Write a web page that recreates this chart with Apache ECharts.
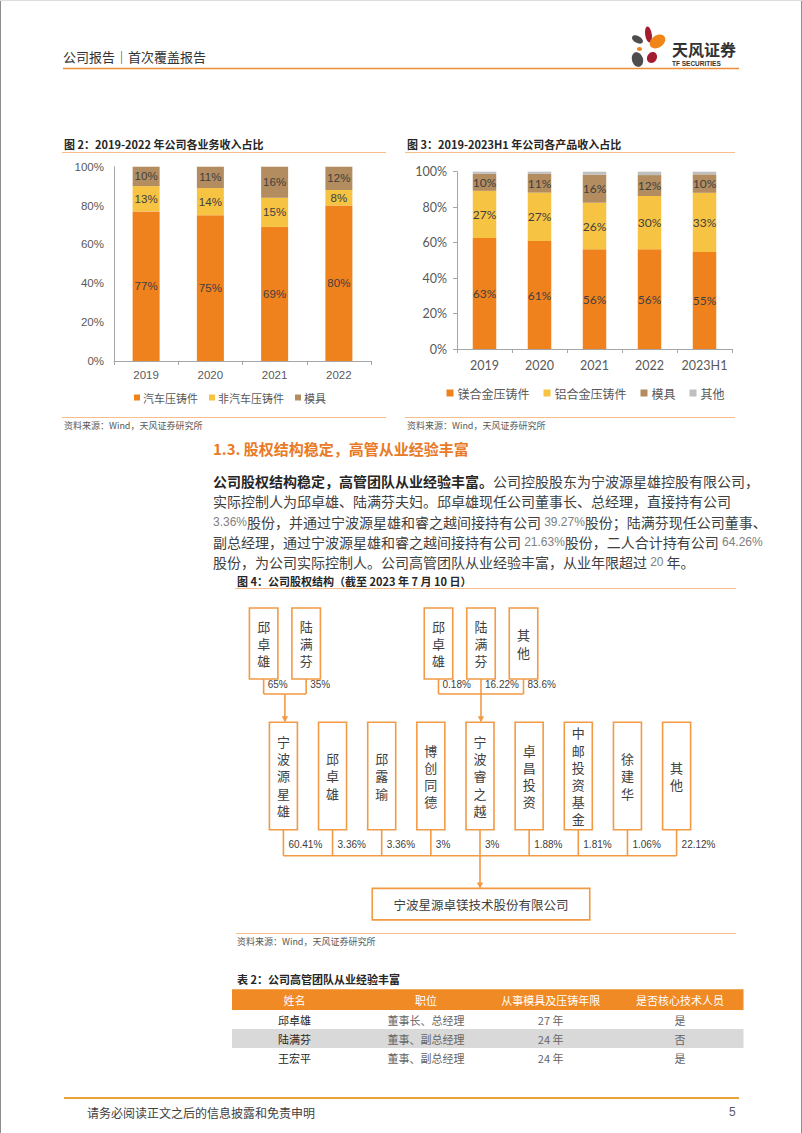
<!DOCTYPE html>
<html><head><meta charset="utf-8">
<script src="https://cdn.jsdelivr.net/npm/echarts@6/dist/echarts.min.js"></script>
<style>html,body{margin:0;padding:0;background:#fff;}#main{width:802px;height:1133px;}</style>
</head><body><div id="main"></div>
<script>
// ---------- DATA ----------
const cats1 = ['2019', '2020', '2021', '2022'];
const autoCast1 = [77, 75, 69, 80];
const nonAutoCast1 = [13, 14, 15, 8];
const mold1 = [10, 11, 16, 12];

const cats2 = ['2019', '2020', '2021', '2022', '2023H1'];
const mgCast2 = [62.6, 60.9, 56.2, 56.2, 54.7];
const alCast2 = [26.6, 27.3, 26.3, 30.1, 33.4];
const mold2 = [9.6, 10.6, 15.8, 11.8, 10.4];
const other2 = [1.2, 1.2, 1.7, 1.9, 1.5];

const topLeftHolders = ['邱卓雄', '陆满芬'];
const topLeftPct = ['65%', '35%'];
const topRightHolders = ['邱卓雄', '陆满芬', '其他'];
const topRightPct = ['0.18%', '16.22%', '83.6%'];
const shareholders = ['宁波源星雄', '邱卓雄', '邱露瑜', '博创同德', '宁波睿之越', '卓昌投资', '中邮投资基金', '徐建华', '其他'];
const shareholderPct = ['60.41%', '3.36%', '3.36%', '3%', '3%', '1.88%', '1.81%', '1.06%', '22.12%'];
const companyName = '宁波星源卓镁技术股份有限公司';

const tableHeader = ['姓名', '职位', '从事模具及压铸年限', '是否核心技术人员'];
const tableRows = [
  ['邱卓雄', '董事长、总经理', '27 年', '是'],
  ['陆满芬', '董事、副总经理', '24 年', '否'],
  ['王宏平', '董事、副总经理', '24 年', '是']
];

// ---------- STYLE ----------
const CJK = '"Noto Sans CJK SC"';
const LAT = '"Liberation Sans","Noto Sans CJK SC"';
const LAT2 = 'Lato,"Noto Sans CJK SC"';
const C_ORANGE = '#F0821E', C_YELLOW = '#F7C343', C_BROWN = '#B38D5F', C_GREY = '#BFBFBF';
const ORG = '#F29A45';
const LIGHT_OR = '#F5BE8C';

function txt(text, x, y, o) {
  o = o || {};
  return {
    type: 'text', silent: true, z: 10,
    style: Object.assign({
      text: text, x: x, y: y,
      align: o.align || 'left', textAlign: o.align || 'left',
      verticalAlign: 'middle', textVerticalAlign: 'middle',
      fontSize: 12, fontFamily: CJK, fill: '#333'
    }, o.style || {})
  };
}
function line(x1, y1, x2, y2, stroke, w) {
  return { type: 'line', silent: true, z: 5, shape: { x1, y1, x2, y2 }, style: { stroke: stroke, lineWidth: w || 1 } };
}
function rect(x, y, w, h, fill, stroke, lw) {
  return { type: 'rect', silent: true, z: 4, shape: { x, y, width: w, height: h }, style: { fill: fill || 'none', stroke: stroke || null, lineWidth: lw || 0 } };
}
function arrowDown(x, y) {
  return { type: 'polygon', silent: true, z: 6, shape: { points: [[x - 3.2, y - 6], [x + 3.2, y - 6], [x, y]] }, style: { fill: ORG } };
}
function vBox(x, y, w, h, label) {
  return [
    rect(x, y, w, h, '#fff', ORG, 1.6),
    { type: 'text', silent: true, z: 10, style: {
      text: label.split('').join('\n'), x: x + w / 2, y: y + h / 2,
      align: 'center', textAlign: 'center', verticalAlign: 'middle', textVerticalAlign: 'middle',
      fontSize: 13, lineHeight: 17.2, fontFamily: CJK, fill: '#404040' } }
  ];
}
function leaf(cx, cy, rx, ry, rot, color) {
  return { type: 'ellipse', silent: true, z: 6, x: cx, y: cy, rotation: rot, shape: { cx: 0, cy: 0, rx: rx, ry: ry }, style: { fill: color } };
}

const G = [];
// page border
G.push(line(0.5, 0, 0.5, 1133, '#8c8c8c', 1));
G.push(line(801.5, 0, 801.5, 1133, '#8c8c8c', 1));
G.push(line(0, 0.5, 802, 0.5, '#dddddd', 1));

// header
G.push(txt('公司报告｜首次覆盖报告', 63, 56, { style: { fontSize: 13, fill: '#333' } }));
G.push(line(63, 68.5, 739, 68.5, '#EC8C34', 1.6));
G.push(leaf(648.5, 34.5, 3.3, 8, 0.15, '#A51C30'));
G.push(leaf(637.5, 39.5, 6, 3.4, -0.5, '#4D4D4F'));
G.push(leaf(657.5, 41.5, 8.5, 6, 0.6, '#F08519'));
G.push(leaf(639.5, 49, 2.6, 2, 0, '#F08519'));
G.push(leaf(637.5, 59.5, 5.5, 7.5, 0.3, '#4D4D4F'));
G.push(leaf(652, 57.5, 4.8, 5.8, -0.5, '#A51C30'));
G.push(txt('天风证券', 672, 48.5, { style: { fontSize: 16, fontWeight: 'bold', fill: '#333' } }));
G.push(txt('TF SECURITIES', 672, 63.5, { style: { fontSize: 6.5, fontWeight: 'bold', fill: '#333', fontFamily: LAT } }));

// chart titles / rules / sources
G.push(txt('图 2：2019-2022 年公司各业务收入占比', 64, 144, { style: { fontSize: 11, fontWeight: 'bold', fill: '#262626' } }));
G.push(txt('图 3：2019-2023H1 年公司各产品收入占比', 407, 144, { style: { fontSize: 11, fontWeight: 'bold', fill: '#262626' } }));
G.push(line(62, 152.5, 386, 152.5, LIGHT_OR, 1));
G.push(line(405, 152.5, 735, 152.5, LIGHT_OR, 1));
G.push(line(62, 417.5, 386, 417.5, LIGHT_OR, 1));
G.push(line(405, 417.5, 735, 417.5, LIGHT_OR, 1));
G.push(txt('资料来源：Wind，天风证券研究所', 64, 425.5, { style: { fontSize: 9, fill: '#595959' } }));
G.push(txt('资料来源：Wind，天风证券研究所', 407, 425.5, { style: { fontSize: 9, fill: '#595959' } }));

// section heading + paragraph
G.push(txt('1.3. 股权结构稳定，高管从业经验丰富', 213, 448, { style: { fontSize: 15, fontWeight: 'bold', fill: '#E97A26' } }));
const rich = {
  b: { fontSize: 14, fontWeight: 'bold', fill: '#262626', fontFamily: CJK, lineHeight: 16 },
  n: { fontSize: 14, fill: '#404040', fontFamily: CJK, lineHeight: 16 },
  d: { fontSize: 12, fill: '#808080', fontFamily: LAT, lineHeight: 16 }
};
const paraLines = [
  '{b|公司股权结构稳定，高管团队从业经验丰富。}{n|公司控股股东为宁波源星雄控股有限公司，}',
  '{n|实际控制人为邱卓雄、陆满芬夫妇。邱卓雄现任公司董事长、总经理，直接持有公司}',
  '{d|3.36%}{n|股份，并通过宁波源星雄和睿之越间接持有公司 }{d|39.27%}{n|股份；陆满芬现任公司董事、}',
  '{n|副总经理，通过宁波源星雄和睿之越间接持有公司 }{d|21.63%}{n|股份，二人合计持有公司 }{d|64.26%}',
  '{n|股份，为公司实际控制人。公司高管团队从业经验丰富，从业年限超过 }{d|20}{n| 年。}'
];
const paraY = [480.5, 501, 521.5, 542, 562];
paraLines.forEach((t, i) => {
  G.push({ type: 'text', silent: true, z: 10, style: { text: t, x: 213, y: paraY[i], align: 'left', textAlign: 'left', verticalAlign: 'middle', textVerticalAlign: 'middle', rich: rich, fontSize: 14, lineHeight: 16, fontFamily: CJK } });
});

// figure 4
G.push(txt('图 4：公司股权结构（截至 2023 年 7 月 10 日）', 237, 580.5, { style: { fontSize: 11, fontWeight: 'bold', fill: '#262626' } }));
G.push(line(235, 588.5, 736, 588.5, LIGHT_OR, 1));

const midLeft0 = 269.4, midStep = 49.15, midW = 28, midTop = 722.2, midH = 107.5;
const midCenters = shareholders.map((s, i) => midLeft0 + i * midStep + midW / 2);
const topW = 28.5, topTop = 608, topH = 71, topStep = 42.5, topJoinY = 694;

function topGroup(names, pcts, targetCx) {
  const n = names.length;
  const centers = names.map((s, i) => targetCx + (i - (n - 1) / 2) * topStep);
  names.forEach((nm, i) => {
    vBox(centers[i] - topW / 2, topTop, topW, topH, nm).forEach(e => G.push(e));
    G.push(line(centers[i], topTop + topH, centers[i], topJoinY, ORG, 1.6));
    G.push(txt(pcts[i], centers[i] + 4, 684, { style: { fontSize: 10, fill: '#404040', fontFamily: LAT } }));
  });
  G.push(line(centers[0], topJoinY, centers[n - 1], topJoinY, ORG, 1.6));
  G.push(line(targetCx, topJoinY, targetCx, midTop - 1, ORG, 1.6));
  G.push(arrowDown(targetCx, midTop));
}
topGroup(topLeftHolders, topLeftPct, midCenters[0] + 1.5);
topGroup(topRightHolders, topRightPct, midCenters[4] + 1);

const botJoinY = 855.7;
shareholders.forEach((nm, i) => {
  vBox(midCenters[i] - midW / 2, midTop, midW, midH, nm).forEach(e => G.push(e));
  G.push(line(midCenters[i], midTop + midH, midCenters[i], botJoinY, ORG, 1.6));
  G.push(txt(shareholderPct[i], midCenters[i] + 5, 844.5, { style: { fontSize: 10, fill: '#404040', fontFamily: LAT } }));
});
G.push(line(midCenters[0], botJoinY, midCenters[8], botJoinY, ORG, 1.6));
const compTop = 888.4, compW = 217.5, compH = 31.5;
G.push(line(midCenters[4], botJoinY, midCenters[4], compTop - 1, ORG, 1.6));
G.push(arrowDown(midCenters[4], compTop));
G.push(rect(midCenters[4] - compW / 2 + 1, compTop, compW, compH, '#fff', ORG, 1.6));
G.push(txt(companyName, midCenters[4] + 1, compTop + compH / 2, { align: 'center', style: { fontSize: 12.5, fill: '#404040' } }));

G.push(line(236, 933.5, 736, 933.5, LIGHT_OR, 1));
G.push(txt('资料来源：Wind，天风证券研究所', 237, 941, { style: { fontSize: 9, fill: '#595959' } }));

// table
G.push(txt('表 2：公司高管团队从业经验丰富', 237, 979, { style: { fontSize: 11, fontWeight: 'bold', fill: '#262626' } }));
const colX = [294.4, 425.9, 550.7, 680];
G.push(rect(232, 989.3, 511.5, 20.7, '#F08A24'));
tableHeader.forEach((h, j) => G.push(txt(h, colX[j], 999.6, { align: 'center', style: { fontSize: 11, fill: '#fff' } })));
const rowY0 = 1010, rowH = 19;
tableRows.forEach((r, i) => {
  if (i % 2 === 1) G.push(rect(232, rowY0 + i * rowH, 511.5, rowH, '#D9D9D9'));
  r.forEach((c, j) => G.push(txt(c, colX[j], rowY0 + i * rowH + rowH / 2 + 0.3, { align: 'center', style: { fontSize: 11, fill: j === 0 ? '#262626' : '#666' } })));
});

// footer
G.push(line(64, 1098, 739, 1098, '#E8A33D', 2));
G.push(txt('请务必阅读正文之后的信息披露和免责申明', 87, 1112, { style: { fontSize: 12, fill: '#404040' } }));
G.push(txt('5', 729, 1112, { style: { fontSize: 12, fill: '#595959', fontFamily: LAT } }));

// ---------- CHART ----------
const labelFmt = p => Math.round(p.value) + '%';
function barSeries(name, data, color, idx, stack, bw, showLabel, ff, fs) {
  return {
    type: 'bar', name: name, data: data, stack: stack, xAxisIndex: idx, yAxisIndex: idx,
    barWidth: bw, itemStyle: { color: color },
    label: { show: showLabel, position: 'inside', formatter: labelFmt, color: '#404040', fontSize: fs, fontFamily: ff },
    emphasis: { disabled: true }, animation: false
  };
}
function xAx(cats, idx, ff, fs, margin) {
  return {
    type: 'category', gridIndex: idx, data: cats,
    axisLine: { lineStyle: { color: '#A6A6A6', width: 1 } },
    axisTick: { show: true, length: 4, lineStyle: { color: '#A6A6A6' } },
    axisLabel: { color: '#595959', fontSize: fs, fontFamily: ff, margin: margin, interval: 0, hideOverlap: false }
  };
}
function yAx(idx, ff, fs, ticks) {
  return {
    type: 'value', gridIndex: idx, min: 0, max: 100, interval: 20,
    axisLine: { show: true, lineStyle: { color: '#A6A6A6', width: 1 } },
    axisTick: { show: ticks, length: 4, lineStyle: { color: '#A6A6A6' } },
    splitLine: { show: false },
    axisLabel: { formatter: '{value}%', color: '#595959', fontSize: fs, fontFamily: ff, margin: 10 }
  };
}

const option = {
  animation: false,
  backgroundColor: '#fff',
  grid: [
    { left: 114, top: 166.7, width: 257, height: 194.3 },
    { left: 457, top: 171.7, width: 275, height: 177.3 }
  ],
  xAxis: [xAx(cats1, 0, LAT, 11.5, 8), xAx(cats2, 1, LAT2, 12.5, 10)],
  yAxis: [yAx(0, LAT, 11.5, false), yAx(1, LAT2, 12.5, true)],
  legend: [
    { data: ['汽车压铸件', '非汽车压铸件', '模具'], left: 134, top: 392, padding: 0, itemGap: 11,
      icon: 'rect', itemWidth: 6, itemHeight: 6, textStyle: { fontSize: 11, color: '#595959', fontFamily: CJK, padding: [0, 0, 0, -2] }, selectedMode: false },
    { data: ['镁合金压铸件', '铝合金压铸件', '模具', '其他'], left: 446.5, top: 387, padding: 0, itemGap: 14,
      icon: 'rect', itemWidth: 7, itemHeight: 7, textStyle: { fontSize: 12, color: '#595959', fontFamily: CJK, padding: [0, 0, 0, -1] }, selectedMode: false }
  ],
  series: [
    barSeries('汽车压铸件', autoCast1, C_ORANGE, 0, 's1', 27, true, LAT, 11.5),
    barSeries('非汽车压铸件', nonAutoCast1, C_YELLOW, 0, 's1', 27, true, LAT, 11.5),
    barSeries('模具', mold1, C_BROWN, 0, 's1', 27, true, LAT, 11.5),
    barSeries('镁合金压铸件', mgCast2, C_ORANGE, 1, 's2', 23.5, true, LAT2, 12),
    barSeries('铝合金压铸件', alCast2, C_YELLOW, 1, 's2', 23.5, true, LAT2, 12),
    barSeries('模具', mold2, C_BROWN, 1, 's2', 23.5, true, LAT2, 12),
    barSeries('其他', other2, C_GREY, 1, 's2', 23.5, false, LAT2, 12)
  ],
  graphic: { elements: G }
};

const chart = echarts.init(document.getElementById('main'), null, { renderer: 'svg', width: 802, height: 1133 });
chart.setOption(option);
</script>
</body></html>
